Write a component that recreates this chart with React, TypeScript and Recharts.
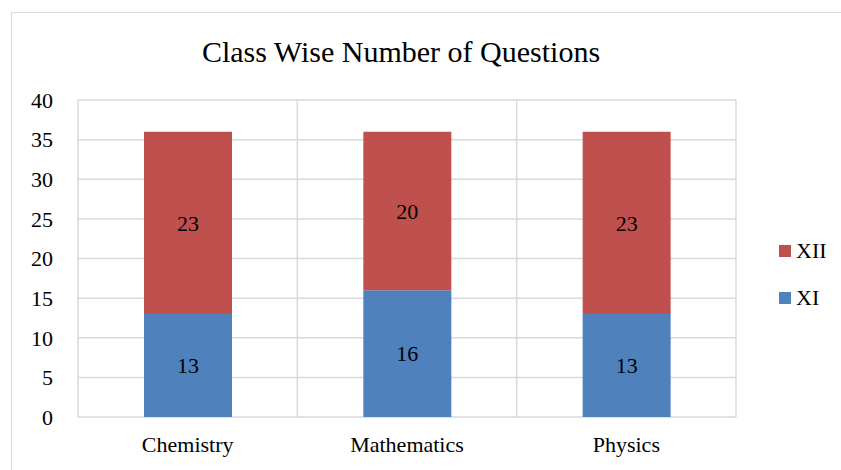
import { Bar, BarChart, CartesianGrid, LabelList, XAxis, YAxis } from "recharts"

const subjects = ["Chemistry", "Mathematics", "Physics"]
const classXI = [13, 16, 13]
const classXII = [23, 20, 23]
const yTicks = [0, 5, 10, 15, 20, 25, 30, 35, 40]

const data = subjects.map((name, i) => ({ name, XI: classXI[i], XII: classXII[i] }))

const FONT = "'Liberation Serif', serif"

function LegendBox() {
  const items = [
    { label: "XII", color: "#C0504D" },
    { label: "XI", color: "#4F81BD" },
  ]
  return (
    <div style={{ position: "absolute", left: 779, top: 227, fontFamily: FONT, fontSize: 22, color: "#000" }}>
      {items.map((it) => (
        <div key={it.label} style={{ display: "flex", alignItems: "center", height: 47 }}>
          <span style={{ width: 12, height: 12, background: it.color, marginRight: 5 }} />
          <span>{it.label}</span>
        </div>
      ))}
    </div>
  )
}

export default function App() {
  return (
    <div style={{ position: "absolute", left: 0, top: 0, width: 841, height: 470, background: "#fff", overflow: "hidden" }}>
      <div style={{ position: "absolute", left: 11, top: 12, width: 900, height: 500, border: "1px solid #D9D9D9" }} />
      <div
        style={{
          position: "absolute",
          left: 0,
          top: 35,
          width: 802,
          textAlign: "center",
          fontFamily: FONT,
          fontSize: 30,
          color: "#000",
        }}
      >
        Class Wise Number of Questions
      </div>
      <div style={{ position: "absolute", left: 0, top: 0 }}>
        <BarChart width={841} height={470} data={data} margin={{ top: 100, right: 105, bottom: 23, left: 0 }}>
          <CartesianGrid
            stroke="#D9D9D9"
            strokeWidth={1.5}
            verticalCoordinatesGenerator={({ offset }: any) =>
              subjects.concat([""]).map((_, i) => offset.left + (i * offset.width) / subjects.length)
            }
          />
          <XAxis
            dataKey="name"
            axisLine={false}
            tickLine={false}
            tickSize={0}
            tickMargin={19}
            height={30}
            tick={{ fill: "#000", fontSize: 22, fontFamily: FONT }}
          />
          <YAxis
            domain={[0, 40]}
            ticks={yTicks}
            interval={0}
            axisLine={false}
            tickLine={false}
            tickSize={0}
            tickMargin={25}
            width={78}
            tick={{ fill: "#000", fontSize: 22, fontFamily: FONT }}
          />
          <Bar dataKey="XI" stackId="a" fill="#4F81BD" barSize={88} isAnimationActive={false}>
            <LabelList dataKey="XI" position="center" fill="#000" fontSize={22} fontFamily={FONT} />
          </Bar>
          <Bar dataKey="XII" stackId="a" fill="#C0504D" barSize={88} isAnimationActive={false}>
            <LabelList dataKey="XII" position="center" fill="#000" fontSize={22} fontFamily={FONT} />
          </Bar>
        </BarChart>
      </div>
      <LegendBox />
    </div>
  )
}
